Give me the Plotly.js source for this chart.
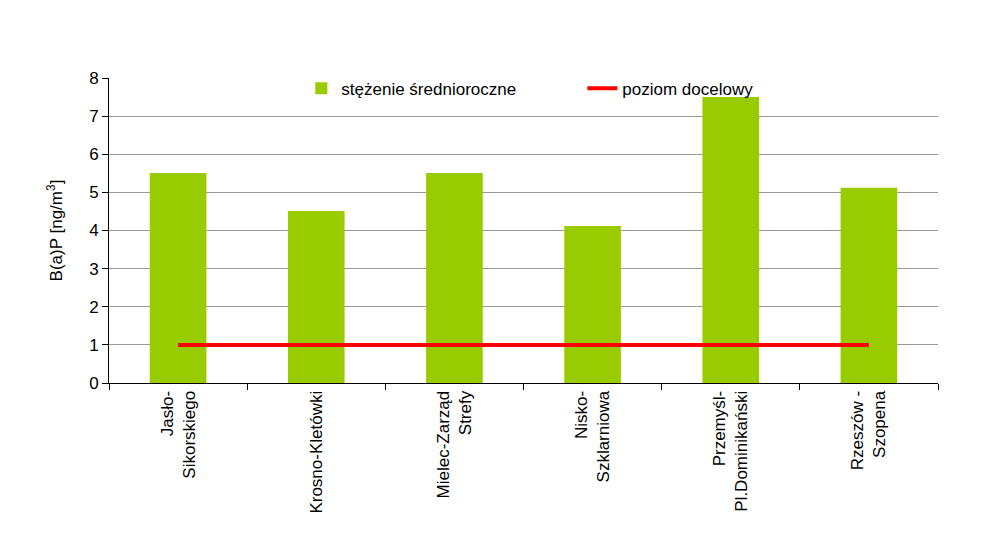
<!DOCTYPE html>
<html>
<head>
<meta charset="utf-8">
<script src="https://cdn.plot.ly/plotly-3.0.1.min.js"></script>
<style>body{margin:0;background:#fff;} #chart{width:1001px;height:547px;}</style>
</head>
<body>
<div id="chart"></div>
<script>
var categories = ["Jasło-<br>Sikorskiego", "Krosno-Kletówki", "Mielec-Zarząd<br>Strefy", "Nisko-<br>Szklarniowa", "Przemyśl-<br>Pl.Dominikański", "Rzeszów -<br>Szopena"];
var meanValues = [5.51, 4.51, 5.51, 4.12, 7.5, 5.12];
var targetLevel = [1, 1, 1, 1, 1, 1];
var yTicks = [0, 1, 2, 3, 4, 5, 6, 7, 8];

var font = "Liberation Sans, Arial, sans-serif";
var data = [
  {type: "bar", x: categories, y: meanValues, name: "stężenie średnioroczne",
   marker: {color: "#99cc00"}},
  {type: "scatter", mode: "lines", x: categories, y: targetLevel, name: "poziom docelowy",
   line: {color: "#ff0000", width: 4}}
];
var layout = {
  width: 1001, height: 547,
  margin: {l: 109, r: 63, t: 78, b: 164},
  paper_bgcolor: "#fff", plot_bgcolor: "#fff",
  font: {family: font, size: 17, color: "#000"},
  bargap: 0.59,
  showlegend: true,
  legend: {orientation: "h", x: 0.232, xanchor: "left", y: 0.965, yanchor: "middle",
           bgcolor: "rgba(0,0,0,0)", font: {size: 17}, entrywidth: 236, tracegroupgap: 0},
  shapes: [{type: "rect", xref: "paper", yref: "paper", x0: 0.195, x1: 0.805, y0: 0.94, y1: 1.01,
            layer: "between", fillcolor: "#fff", line: {width: 0}}],
  xaxis: {type: "category", tickangle: -90, showline: true, linecolor: "#000", linewidth: 1,
          ticks: "outside", tickson: "boundaries", ticklen: 6, tickcolor: "#000",
          showgrid: false, tickfont: {size: 17}, automargin: false},
  yaxis: {range: [0, 8], tickvals: yTicks, showline: true, linecolor: "#000", linewidth: 1,
          ticks: "outside", ticklen: 6, tickcolor: "#000", gridcolor: "#999", gridwidth: 1,
          zeroline: false, tickfont: {size: 17},
          title: {text: "B(a)P [ng/m<sup>3</sup>]", font: {size: 17}, standoff: 22}}
};
Plotly.newPlot("chart", data, layout, {displayModeBar: false});
</script>
</body>
</html>
